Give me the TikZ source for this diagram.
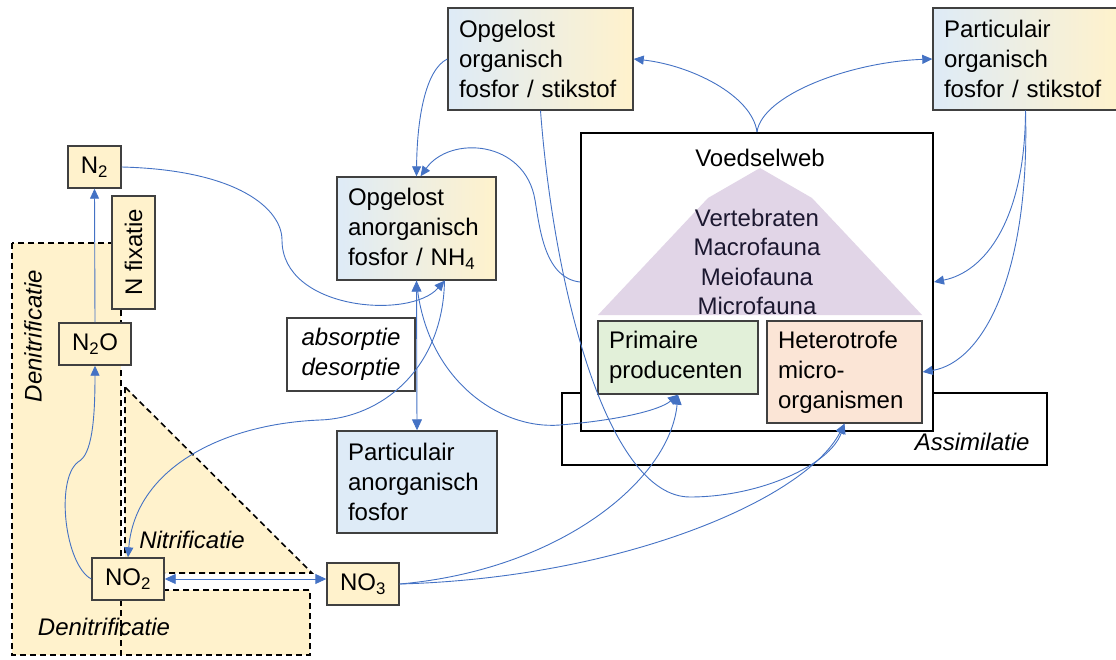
\documentclass[tikz,border=0pt]{standalone}
\usepackage{fontspec}
\setmainfont{Liberation Sans}
\usepackage{xcolor}
\usetikzlibrary{arrows.meta, shapes.geometric, positioning, calc}

\definecolor{paleblue}{HTML}{DEEBF7}
\definecolor{paleyellow}{HTML}{FFF2CC}
\definecolor{palegreen}{HTML}{E2F0D9}
\definecolor{paleorange}{HTML}{FBE5D6}
\definecolor{palepurple}{HTML}{E1D5E7}
\definecolor{faunatext}{HTML}{1C1830}
\definecolor{arrowblue}{HTML}{4472C4}
\definecolor{boxline}{HTML}{404040}

\newcommand{\diafont}{\fontsize{24}{30}\selectfont}

\begin{document}
\begin{tikzpicture}[x=1pt, y=-1pt,
    box/.style={draw=boxline, line width=1.4pt, align=left, inner xsep=11pt, inner ysep=0pt, font=\diafont},
    smallbox/.style={draw=boxline, line width=1.4pt, fill=paleyellow, minimum width=72pt, minimum height=42pt, inner sep=0pt, font=\diafont},
    zone/.style={fill=paleyellow, draw=black, line width=1.6pt, dash pattern=on 6pt off 4pt},
    procname/.style={font=\diafont\itshape},
    arrow/.style={-{Triangle[length=10pt,width=9pt]}, draw=arrowblue, line width=0.9pt},
    twoway/.style={{Triangle[length=11pt,width=10pt]}-{Triangle[length=11pt,width=10pt]}, draw=arrowblue, line width=0.9pt}
]
\useasboundingbox (0,0) rectangle (1116,660);

% nitrogen zones
\draw[zone] (12,243) rectangle (121,655);
\draw[zone] (121,590) rectangle (310,655);
\draw[zone] (125,387) -- (125,573) -- (312,573) -- cycle;
\node[procname, rotate=90] (denitrleft) at (33,336) {Denitrificatie};
\node[procname] (nitr) at (192,540) {Nitrificatie};
\node[procname] (denitrlow) at (104,627) {Denitrificatie};

% food web
\node[draw=black, line width=1.4pt, minimum width=485pt, minimum height=72pt] (assim) at (804.5,429) {};
\node[procname, anchor=east] (assimtxt) at (1033,442) {Assimilatie};
\node[draw=black, fill=white, line width=2pt, minimum width=352pt, minimum height=298pt] (voedsel) at (757,282) {};
\fill[palepurple] (760,168) -- (812,198) -- (922,315) -- (598,315) -- (708,198) -- cycle;
\node[font=\diafont] (web) at (760,158) {Voedselweb};
\node[font=\fontsize{24}{29.3}\selectfont, text=faunatext, align=center] (fauna) at (757,262) {Vertebraten\\Macrofauna\\Meiofauna\\Microfauna};
\node[box, fill=palegreen, text width=138pt, minimum height=73pt] (prim) at (678,357.5) {Primaire\\producenten};
\node[box, fill=paleorange, text width=133pt, minimum height=102pt] (hetero) at (844.5,372) {Heterotrofe\\micro-\\organismen};

% phosphorus / nitrogen pools
\node[box, left color=paleblue, right color=paleyellow, text width=163pt, minimum height=102pt] (orgopg) at (540.5,59) {Opgelost\\organisch\\fosfor / stikstof};
\node[box, left color=paleblue, right color=paleyellow, text width=163pt, minimum height=102pt] (orgpart) at (1025.5,59) {Particulair\\organisch\\fosfor / stikstof};
\node[box, left color=paleblue, right color=paleyellow, text width=137pt, minimum height=103pt] (anorgopg) at (416.5,228.5) {Opgelost\\anorganisch\\fosfor / NH\textsubscript{4}};
\node[box, fill=paleblue, text width=138pt, minimum height=102pt] (anorgpart) at (417,482) {Particulair\\anorganisch\\fosfor};
\node[draw=boxline, line width=1.4pt, fill=white, minimum width=128pt, minimum height=73pt, align=center, font=\diafont\itshape] (sorptie) at (351,354.5) {absorptie\\desorptie};

\node[smallbox, minimum width=53pt] (ntwo) at (94.5,167) {N\textsubscript{2}};
\node[smallbox, rotate=90, minimum width=113pt, minimum height=43pt] (nfix) at (133.5,252.5) {N fixatie};
\node[smallbox] (ntwoo) at (95,344) {N\textsubscript{2}O};
\node[smallbox] (notwo) at (128,579) {NO\textsubscript{2}};
\node[smallbox] (nothree) at (363,584) {NO\textsubscript{3}};

% connectors
\draw[arrow] (ntwoo.north) -- (ntwo.south);
\draw[arrow] (notwo.west) .. controls (65,565) and (55,480) .. (78,462) .. controls (92,455) and (95,420) .. (ntwoo.south);
\draw[arrow] ([xshift=28pt]anorgopg.south) .. controls (443,370) and (380,418) .. (320,420) .. controls (220,424) and (135,470) .. (notwo.north);
\draw[arrow] (ntwo.east) .. controls (240,170) and (282,210) .. (282,240) .. controls (282,310) and (410,320) .. ([xshift=28pt]anorgopg.south);
\draw[arrow] (orgopg.west) .. controls (425,70) and (417,120) .. (anorgopg.north);
\draw[arrow] (voedsel.west) .. controls (545,278) and (540,230) .. (535,200) .. controls (525,140) and (450,135) .. ([xshift=4pt]anorgopg.north);
\draw[arrow] (voedsel.north) .. controls (752,95) and (690,65) .. (orgopg.east);
\draw[arrow] (voedsel.north) .. controls (762,95) and (850,62) .. (orgpart.west);
\draw[arrow] (orgpart.south) .. controls (1025,220) and (985,272) .. (voedsel.east);
\draw[arrow] (orgpart.south) .. controls (1030,270) and (985,362) .. (hetero.east);
\draw[arrow] (orgopg.south) .. controls (555,300) and (610,497) .. (690,497) .. controls (760,497) and (830,465) .. (hetero.south);
\draw[arrow] (nothree.east) .. controls (560,570) and (670,480) .. (prim.south);
\draw[arrow] (nothree.east) .. controls (620,578) and (805,500) .. (hetero.south);
\draw[twoway] (anorgopg.south) -- (anorgpart.north);
\draw[arrow] (anorgopg.south) .. controls (425,380) and (500,430) .. (560,425) .. controls (620,420) and (660,410) .. (prim.south);
\draw[twoway] (notwo.east) -- (notwo.east -| nothree.west);

\end{tikzpicture}
\end{document}
